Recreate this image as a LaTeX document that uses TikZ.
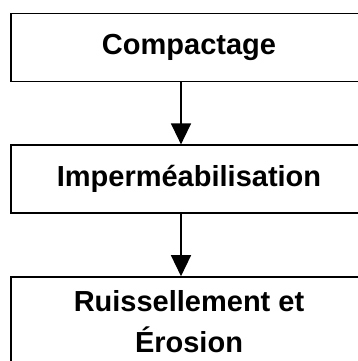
\documentclass[tikz,border=0pt]{standalone}
\usepackage{fontspec}
\setmainfont{Liberation Sans}
\usetikzlibrary{positioning,arrows.meta}

\begin{document}
\begin{tikzpicture}[x=1pt, y=-1pt, node distance={62pt},
    main/.style = {draw, line width=1.8pt, minimum width=356pt, minimum height=68pt,
                   inner sep=0pt, font=\fontsize{29}{41}\selectfont\bfseries, align=center},
    link/.style = {line width=1.4pt, -{Triangle[width=20pt,length=21pt]}}]
		\useasboundingbox (0,0) rectangle (357,361);
		\node[main] (compactage) at (189,47.5) {Compactage};
		\node[main] (imper) [below=of compactage] {Imperméabilisation};
		\node[main, minimum height=90pt] (ruiss) [below=of imper] {Ruissellement et\\Érosion};
		
		\draw[link] ([xshift=-8pt]compactage.south) -- ([xshift=-8pt]imper.north);
		\draw[link] ([xshift=-8pt]imper.south) -- ([xshift=-8pt]ruiss.north);
	\end{tikzpicture}
\end{document}
